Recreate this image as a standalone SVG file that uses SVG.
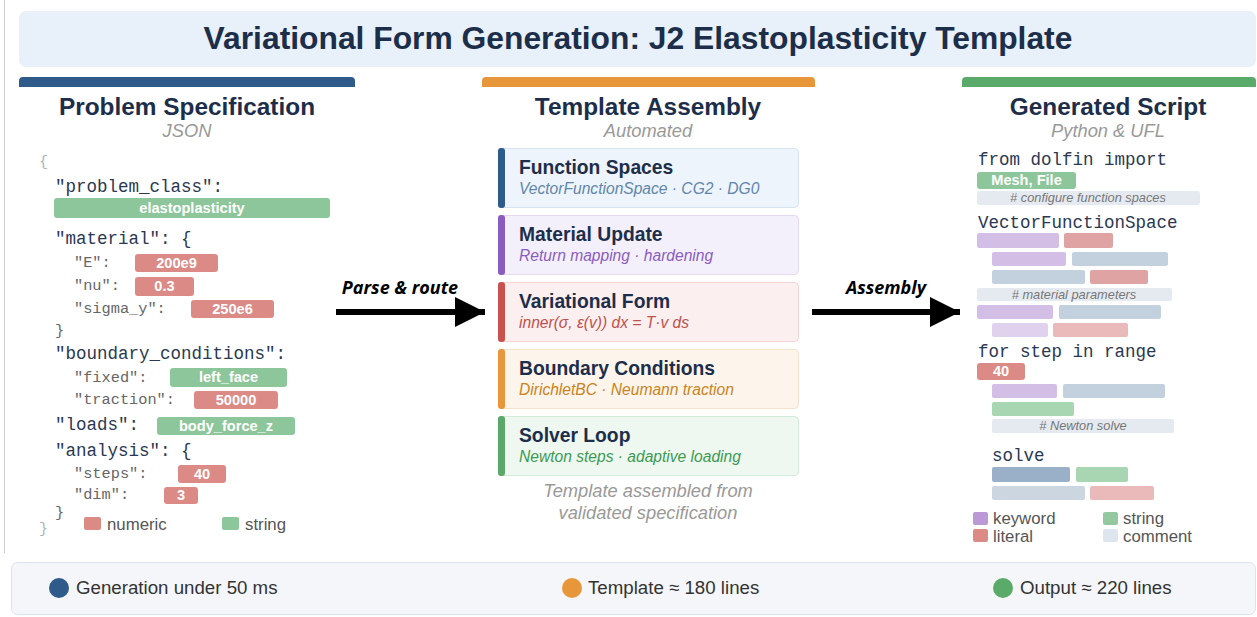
<svg xmlns="http://www.w3.org/2000/svg" width="1257" height="617" viewBox="0 0 1257 617">
<defs>
<style>
.h{font-family:"Liberation Sans",Arial,sans-serif;font-weight:bold;fill:#1c2e4a}
.sub{font-family:"Liberation Sans",Arial,sans-serif;font-style:italic;fill:#999;font-size:18.3px}
.k1{font-family:"Liberation Mono","Courier New",monospace;font-size:17.5px;fill:#2a3852}
.k2{font-family:"Liberation Mono","Courier New",monospace;font-size:15.3px;fill:#666}
.br{font-family:"Liberation Mono","Courier New",monospace;font-size:15px;fill:#aab4c0}
.pv{font-family:"Liberation Sans",Arial,sans-serif;font-weight:bold;font-size:14.6px;fill:#fff}
.num{fill:#dc8a86}
.str{fill:#8dc69a}
.ct{font-family:"Liberation Sans",Arial,sans-serif;font-weight:bold;font-size:19.3px;fill:#1c2e4a}
.cs{font-family:"Liberation Sans",Arial,sans-serif;font-style:italic;font-size:15.6px}
.lg{font-family:"Liberation Sans",Arial,sans-serif;font-size:16.8px;fill:#555}
.cm{font-family:"Liberation Sans",Arial,sans-serif;font-style:italic;font-size:12.8px;fill:#777}
.al{font-family:"Open Sans","Liberation Sans",sans-serif;font-weight:bold;font-style:italic;font-size:18px;fill:#000}
.ft{font-family:"Liberation Sans",Arial,sans-serif;font-size:18.7px;fill:#333}
.kw{fill:#d3bfe6}.kwl{fill:#e0d2ee}.lit{fill:#e0a3a3}.litl{fill:#eab9b9}.gb{fill:#c3d0dd}.gbl{fill:#cbd6e1}.gr{fill:#a8d5b2}.cmt{fill:#e5eaf1}.dk{fill:#9aafc8}
</style>
<marker id="ah" viewBox="0 0 10 10" refX="10" refY="5" markerWidth="5" markerHeight="5.4" orient="auto" markerUnits="strokeWidth">
<path d="M0,0 L10,5 L0,10 z" fill="#000"/>
</marker>
</defs>
<rect width="1257" height="617" fill="#fff"/>
<line x1="4.5" y1="0" x2="4.5" y2="553" stroke="#d0d0d0" stroke-width="1"/>

<g id="title">
<rect x="19" y="11" width="1237" height="56" rx="7" fill="#e8f0f9"/>
<text x="638" y="49" text-anchor="middle" class="h" font-size="31.8">Variational Form Generation: J2 Elastoplasticity Template</text>
</g>

<g id="problem-spec">
<path d="M19,87 V81 a4,4 0 0 1 4,-4 H351 a4,4 0 0 1 4,4 V87 z" fill="#2e5b8a"/>
<text x="187" y="115" text-anchor="middle" class="h" font-size="24.4">Problem Specification</text>
<text x="187" y="137" text-anchor="middle" class="sub">JSON</text>
<text x="39" y="166" class="br">{</text>
<text x="55" y="192" class="k1">"problem_class":</text>
<rect x="54" y="198" width="276" height="20" rx="3" class="str"/>
<text x="192" y="213" text-anchor="middle" class="pv">elastoplasticity</text>
<text x="55" y="244" class="k1">"material": {</text>
<text x="74" y="267" class="k2">"E":</text>
<rect x="135" y="254" width="83" height="18" rx="3" class="num"/>
<text x="176.5" y="268" text-anchor="middle" class="pv">200e9</text>
<text x="74" y="290" class="k2">"nu":</text>
<rect x="135" y="277" width="59" height="19" rx="3" class="num"/>
<text x="164.5" y="291" text-anchor="middle" class="pv">0.3</text>
<text x="74" y="313" class="k2">"sigma_y":</text>
<rect x="191" y="300" width="83" height="18" rx="3" class="num"/>
<text x="232.5" y="314" text-anchor="middle" class="pv">250e6</text>
<text x="55" y="335" class="k2" fill="#777">}</text>
<text x="55" y="359" class="k1">"boundary_conditions":</text>
<text x="74" y="382" class="k2">"fixed":</text>
<rect x="170" y="368" width="117" height="19" rx="3" class="str"/>
<text x="228.5" y="382" text-anchor="middle" class="pv">left_face</text>
<text x="74" y="404" class="k2">"traction":</text>
<rect x="194" y="391" width="84" height="18" rx="3" class="num"/>
<text x="236" y="405" text-anchor="middle" class="pv">50000</text>
<text x="55" y="430" class="k1">"loads":</text>
<rect x="157" y="417" width="138" height="18" rx="3" class="str"/>
<text x="226" y="431" text-anchor="middle" class="pv">body_force_z</text>
<text x="55" y="456" class="k1">"analysis": {</text>
<text x="74" y="478" class="k2">"steps":</text>
<rect x="178" y="465" width="48" height="18" rx="3" class="num"/>
<text x="202" y="479" text-anchor="middle" class="pv">40</text>
<text x="74" y="499" class="k2">"dim":</text>
<rect x="164" y="487" width="34" height="17" rx="3" class="num"/>
<text x="181" y="500" text-anchor="middle" class="pv">3</text>
<text x="55" y="517" class="k2" fill="#777">}</text>
<text x="39" y="533" class="br">}</text>
<rect x="84" y="517" width="17" height="13" rx="2" class="num"/>
<text x="107" y="530" class="lg">numeric</text>
<rect x="222" y="517" width="17" height="13" rx="2" class="str"/>
<text x="245" y="530" class="lg">string</text>
</g>

<g id="template-assembly">
<path d="M482,87 V81 a4,4 0 0 1 4,-4 H811 a4,4 0 0 1 4,4 V87 z" fill="#e8963a"/>
<text x="648" y="115" text-anchor="middle" class="h" font-size="24.4">Template Assembly</text>
<text x="648" y="137" text-anchor="middle" class="sub">Automated</text>
<text x="648" y="497" text-anchor="middle" class="sub" fill="#aaa" font-size="18.8">Template assembled from</text>
<text x="648" y="519" text-anchor="middle" class="sub" fill="#aaa" font-size="18.8">validated specification</text>
</g>

<g id="card-function-spaces">
<rect x="498.5" y="148.5" width="300" height="59" rx="4" fill="#eef4fb" stroke="#d6e4f2"/>
<rect x="498" y="148" width="7" height="60" rx="3" fill="#2e5b8a"/>
<text x="519" y="174" class="ct">Function Spaces</text>
<text x="519" y="194" class="cs" fill="#5f86ad">VectorFunctionSpace · CG2 · DG0</text>
</g>
<g id="card-material-update">
<rect x="498.5" y="215.5" width="300" height="59" rx="4" fill="#f4f0fb" stroke="#e4d8f2"/>
<rect x="498" y="215" width="7" height="60" rx="3" fill="#8a5cbf"/>
<text x="519" y="241" class="ct">Material Update</text>
<text x="519" y="261" class="cs" fill="#8a5cbf">Return mapping · hardening</text>
</g>
<g id="card-variational-form">
<rect x="498.5" y="282.5" width="300" height="59" rx="4" fill="#fcefef" stroke="#f4d4d4"/>
<rect x="498" y="282" width="7" height="60" rx="3" fill="#c9524f"/>
<text x="519" y="308" class="ct">Variational Form</text>
<text x="519" y="328" class="cs" fill="#c0504d">inner(σ, ε(v)) dx = T·v ds</text>
</g>
<g id="card-boundary-conditions">
<rect x="498.5" y="349.5" width="300" height="59" rx="4" fill="#fdf5ec" stroke="#f5e2cc"/>
<rect x="498" y="349" width="7" height="60" rx="3" fill="#e8963a"/>
<text x="519" y="375" class="ct">Boundary Conditions</text>
<text x="519" y="395" class="cs" fill="#c98420">DirichletBC · Neumann traction</text>
</g>
<g id="card-solver-loop">
<rect x="498.5" y="416.5" width="300" height="59" rx="4" fill="#eef7f0" stroke="#d2ebd8"/>
<rect x="498" y="416" width="7" height="60" rx="3" fill="#5aa86a"/>
<text x="519" y="442" class="ct">Solver Loop</text>
<text x="519" y="462" class="cs" fill="#3d9a50">Newton steps · adaptive loading</text>
</g>

<g id="generated-script">
<path d="M962,87 V81 a4,4 0 0 1 4,-4 H1252 a4,4 0 0 1 4,4 V87 z" fill="#5aaa6a"/>
<text x="1108" y="115" text-anchor="middle" class="h" font-size="24.4">Generated Script</text>
<text x="1108" y="137" text-anchor="middle" class="sub">Python &amp; UFL</text>
<text x="978" y="165" class="k1">from dolfin import</text>
<rect x="977" y="172" width="99" height="17" rx="3" class="str"/>
<text x="1026.5" y="185" text-anchor="middle" class="pv">Mesh, File</text>
<rect x="977" y="191" width="223" height="14" rx="3" class="cmt"/>
<text x="1088" y="202" text-anchor="middle" class="cm"># configure function spaces</text>
<text x="978" y="228" class="k1">VectorFunctionSpace</text>
<rect x="977" y="233" width="82" height="15" rx="2" class="kw"/>
<rect x="1064" y="233" width="49" height="15" rx="2" class="lit"/>
<rect x="992" y="252" width="74" height="14" rx="2" class="kw"/>
<rect x="1072" y="252" width="96" height="14" rx="2" class="gb"/>
<rect x="992" y="270" width="93" height="14" rx="2" class="gb"/>
<rect x="1090" y="270" width="58" height="14" rx="2" class="lit"/>
<rect x="977" y="288" width="195" height="13" rx="2" class="cmt"/>
<text x="1074" y="298.5" text-anchor="middle" class="cm"># material parameters</text>
<rect x="977" y="305" width="76" height="14" rx="2" class="kw"/>
<rect x="1059" y="305" width="102" height="14" rx="2" class="gb"/>
<rect x="992" y="323" width="56" height="14" rx="2" class="kwl"/>
<rect x="1053" y="323" width="75" height="14" rx="2" class="litl"/>
<text x="978" y="357" class="k1">for step in range</text>
<rect x="977" y="363" width="48" height="17" rx="3" class="num"/>
<text x="1001" y="376" text-anchor="middle" class="pv">40</text>
<rect x="992" y="384" width="65" height="14" rx="2" class="kw"/>
<rect x="1063" y="384" width="102" height="14" rx="2" class="gb"/>
<rect x="992" y="402" width="82" height="14" rx="2" class="gr"/>
<rect x="992" y="419" width="182" height="14" rx="2" class="cmt"/>
<text x="1083" y="430" text-anchor="middle" class="cm"># Newton solve</text>
<text x="992" y="461" class="k1">solve</text>
<rect x="992" y="467" width="78" height="15" rx="2" class="dk"/>
<rect x="1076" y="467" width="52" height="15" rx="2" class="gr"/>
<rect x="992" y="486" width="93" height="14" rx="2" class="gbl"/>
<rect x="1090" y="486" width="64" height="14" rx="2" class="litl"/>
<rect x="973" y="512" width="15" height="13" rx="2" fill="#b99ad6"/>
<text x="993" y="524" class="lg">keyword</text>
<rect x="1103" y="512" width="15" height="13" rx="2" fill="#94c9a0"/>
<text x="1123" y="524" class="lg">string</text>
<rect x="973" y="529" width="15" height="13" rx="2" fill="#dc8a86"/>
<text x="993" y="542" class="lg">literal</text>
<rect x="1103" y="529" width="15" height="13" rx="2" fill="#dde5ee"/>
<text x="1123" y="542" class="lg">comment</text>
</g>

<g id="connectors">
<line x1="336" y1="312" x2="485" y2="312" stroke="#000" stroke-width="6" marker-end="url(#ah)"/>
<text x="400" y="294" text-anchor="middle" class="al">Parse &amp; route</text>
<line x1="812" y1="312" x2="960" y2="312" stroke="#000" stroke-width="6" marker-end="url(#ah)"/>
<text x="886" y="294" text-anchor="middle" class="al">Assembly</text>
</g>

<g id="footer">
<rect x="11.5" y="562.5" width="1244" height="52" rx="6" fill="#f4f6fa" stroke="#dde3ec"/>
<circle cx="59" cy="588" r="10" fill="#2e5b8a"/>
<text x="76" y="594" class="ft">Generation under 50 ms</text>
<circle cx="572" cy="588" r="10" fill="#e8963a"/>
<text x="588" y="594" class="ft">Template ≈ 180 lines</text>
<circle cx="1003" cy="588" r="10" fill="#5aaa6a"/>
<text x="1020" y="594" class="ft">Output ≈ 220 lines</text>
</g>
</svg>
